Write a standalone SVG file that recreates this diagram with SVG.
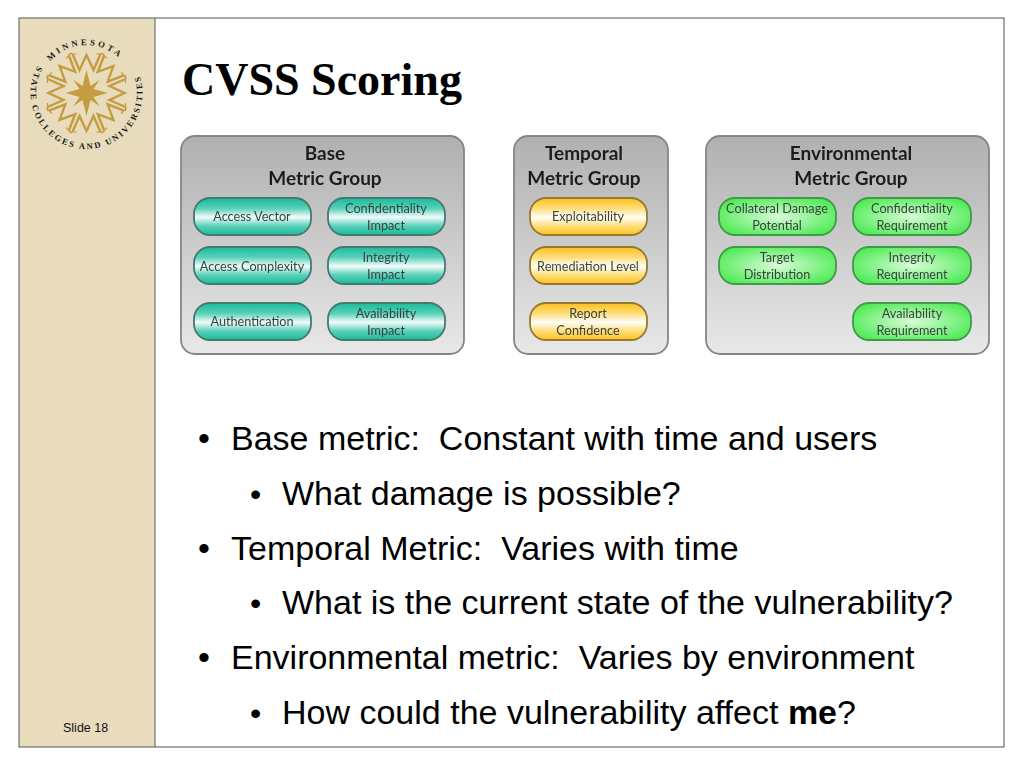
<svg xmlns="http://www.w3.org/2000/svg" width="1024" height="768" viewBox="0 0 1024 768">
<style>
.body{font-family:"Liberation Sans",Arial,sans-serif;font-size:34px;fill:#000;white-space:pre}
.sb{font-family:"Liberation Sans",Arial,sans-serif;font-size:32px;fill:#000}
.title{font-family:"Liberation Serif","Times New Roman",serif;font-size:46px;font-weight:bold;fill:#000}
.panel{stroke:#858585;stroke-width:1.8}
.pill{stroke-width:1.8}
.pt{font-family:Lato,"Liberation Sans",sans-serif;font-size:12.7px;fill:#39423f;text-anchor:middle}
.ph{font-family:Lato,"Liberation Sans",sans-serif;font-size:19px;font-weight:bold;fill:#1f1f1f;text-anchor:middle}
.teal{fill:url(#gt);stroke:#46786d}
.yel{fill:url(#gy);stroke:#94792f}
.grn{fill:url(#gg);stroke:#3f9a4a}
.logo{font-family:"Liberation Serif",serif;font-size:8.6px;font-weight:bold;fill:#1c1a12}
.m{fill:none;stroke:#c49c41;stroke-width:2.4;stroke-linejoin:miter}
.ms{fill:none;stroke:#c49c41;stroke-width:1.2}
</style>
<defs>
<linearGradient id="gp" x1="0" y1="0" x2="0" y2="1"><stop offset="0" stop-color="#b0b0b0"/><stop offset="1" stop-color="#e8e8e8"/></linearGradient>
<linearGradient id="gt" x1="0" y1="0" x2="0" y2="1"><stop offset="0" stop-color="#18bb9b"/><stop offset=".28" stop-color="#58d0b8"/><stop offset=".52" stop-color="#f4fcfa"/><stop offset=".76" stop-color="#58d0b8"/><stop offset="1" stop-color="#18bb9b"/></linearGradient>
<linearGradient id="gy" x1="0" y1="0" x2="0" y2="1"><stop offset="0" stop-color="#fdc01c"/><stop offset=".28" stop-color="#fedd7a"/><stop offset=".52" stop-color="#fffef8"/><stop offset=".76" stop-color="#fedd7a"/><stop offset="1" stop-color="#fdc01c"/></linearGradient>
<radialGradient id="gg" cx=".5" cy=".5" r=".6"><stop offset="0" stop-color="#d8fbd8"/><stop offset="1" stop-color="#4ceb52"/></radialGradient>
<filter id="soft" x="-5%" y="-5%" width="110%" height="110%"><feGaussianBlur stdDeviation="0.55"/></filter>
<g id="mm">
<path class="m" d="M-14,-39L-7,-23L0,-38L7,-23L14,-39"/>
<path class="ms" d="M-18,-39H-10M10,-39H18"/>
</g>
<path id="arcTop" d="M50.3,61.5A48,48 0 0 1 122.7,61.5"/>
<path id="arcBot" d="M37.5,66A56,56 0 1 0 135.5,66"/>
</defs>
<rect width="1024" height="768" fill="#fff"/>
<g id="slide-frame">
<rect x="19" y="18" width="136" height="729" fill="#e8dcbc"/>
<rect x="19" y="18" width="985" height="729" fill="none" stroke="#6f6f6f" stroke-width="1.2"/>
<line x1="155" y1="18" x2="155" y2="747" stroke="#6f6f6f" stroke-width="1.2"/>
</g>
<g id="logo">
<g transform="translate(86.5,93)">
<use href="#mm"/><use href="#mm" transform="rotate(45)"/><use href="#mm" transform="rotate(90)"/><use href="#mm" transform="rotate(135)"/><use href="#mm" transform="rotate(180)"/><use href="#mm" transform="rotate(225)"/><use href="#mm" transform="rotate(270)"/><use href="#mm" transform="rotate(315)"/>
<polygon fill="#c49c41" points="0,-23 4,-7 13,-13 7,-4 21,0 7,4 13,13 4,7 0,23 -4,7 -13,13 -7,4 -21,0 -7,-4 -13,-13 -4,-7"/>
</g>
<text class="logo" letter-spacing="2.9"><textPath href="#arcTop">MINNESOTA</textPath></text>
<text class="logo" letter-spacing="2"><textPath href="#arcBot">STATE COLLEGES AND UNIVERSITIES</textPath></text>
</g>
<text id="title" class="title" x="182" y="95">CVSS Scoring</text>
<g id="base-group" filter="url(#soft)">
<rect class="panel" x="181" y="136" width="283" height="218" rx="14" fill="url(#gp)"/>
<text class="ph" x="325" y="160">Base</text><text class="ph" x="325" y="185">Metric Group</text>
</g>
<g id="access-vector" filter="url(#soft)"><rect class="pill teal" x="194" y="198" width="117" height="37" rx="16"/><text class="pt" x="252" y="221">Access Vector</text></g>
<g id="access-complexity" filter="url(#soft)"><rect class="pill teal" x="194" y="247" width="117" height="37" rx="16"/><text class="pt" x="252" y="271">Access Complexity</text></g>
<g id="authentication" filter="url(#soft)"><rect class="pill teal" x="194" y="303" width="117" height="37" rx="16"/><text class="pt" x="252" y="326">Authentication</text></g>
<g id="conf-impact" filter="url(#soft)"><rect class="pill teal" x="328" y="198" width="117" height="37" rx="16"/><text class="pt" x="386" y="213">Confidentiality</text><text class="pt" x="386" y="230">Impact</text></g>
<g id="int-impact" filter="url(#soft)"><rect class="pill teal" x="328" y="247" width="117" height="37" rx="16"/><text class="pt" x="386" y="262">Integrity</text><text class="pt" x="386" y="279">Impact</text></g>
<g id="avail-impact" filter="url(#soft)"><rect class="pill teal" x="328" y="303" width="117" height="37" rx="16"/><text class="pt" x="386" y="318">Availability</text><text class="pt" x="386" y="335">Impact</text></g>
<g id="temporal-group" filter="url(#soft)">
<rect class="panel" x="514" y="136" width="154" height="218" rx="14" fill="url(#gp)"/>
<text class="ph" x="584" y="160">Temporal</text><text class="ph" x="584" y="185">Metric Group</text>
</g>
<g id="exploitability" filter="url(#soft)"><rect class="pill yel" x="530" y="198" width="117" height="37" rx="16"/><text class="pt" x="588" y="221">Exploitability</text></g>
<g id="remediation-level" filter="url(#soft)"><rect class="pill yel" x="530" y="247" width="117" height="37" rx="16"/><text class="pt" x="588" y="271">Remediation Level</text></g>
<g id="report-confidence" filter="url(#soft)"><rect class="pill yel" x="530" y="303" width="117" height="37" rx="16"/><text class="pt" x="588" y="318">Report</text><text class="pt" x="588" y="335">Confidence</text></g>
<g id="environmental-group" filter="url(#soft)">
<rect class="panel" x="706" y="136" width="283" height="218" rx="14" fill="url(#gp)"/>
<text class="ph" x="851" y="160">Environmental</text><text class="ph" x="851" y="185">Metric Group</text>
</g>
<g id="collateral" filter="url(#soft)"><rect class="pill grn" x="719" y="198" width="117" height="37" rx="16"/><text class="pt" x="777" y="213">Collateral Damage</text><text class="pt" x="777" y="230">Potential</text></g>
<g id="target" filter="url(#soft)"><rect class="pill grn" x="719" y="247" width="117" height="37" rx="16"/><text class="pt" x="777" y="262">Target</text><text class="pt" x="777" y="279">Distribution</text></g>
<g id="conf-req" filter="url(#soft)"><rect class="pill grn" x="853" y="198" width="118" height="37" rx="16"/><text class="pt" x="912" y="213">Confidentiality</text><text class="pt" x="912" y="230">Requirement</text></g>
<g id="int-req" filter="url(#soft)"><rect class="pill grn" x="853" y="247" width="118" height="37" rx="16"/><text class="pt" x="912" y="262">Integrity</text><text class="pt" x="912" y="279">Requirement</text></g>
<g id="avail-req" filter="url(#soft)"><rect class="pill grn" x="853" y="303" width="118" height="37" rx="16"/><text class="pt" x="912" y="318">Availability</text><text class="pt" x="912" y="335">Requirement</text></g>
<g id="bullets">
<text class="body" x="198" y="450">•</text><text class="body" x="231" y="450">Base metric:  Constant with time and users</text>
<text class="sb" x="250" y="505">•</text><text class="body" x="282" y="505">What damage is possible?</text>
<text class="body" x="198" y="560">•</text><text class="body" x="231" y="560">Temporal Metric:  Varies with time</text>
<text class="sb" x="250" y="614">•</text><text class="body" x="282" y="614">What is the current state of the vulnerability?</text>
<text class="body" x="198" y="669">•</text><text class="body" x="231" y="669">Environmental metric:  Varies by environment</text>
<text class="sb" x="250" y="724">•</text><text class="body" x="282" y="724">How could the vulnerability affect <tspan font-weight="bold">me</tspan>?</text>
</g>
<text id="slide-number" x="63" y="732" font-family="Liberation Sans,Arial,sans-serif" font-size="12.5" fill="#111">Slide 18</text>
</svg>
